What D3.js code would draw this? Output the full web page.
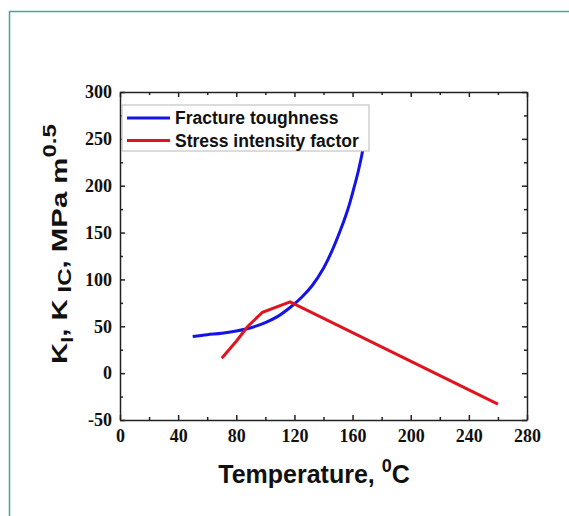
<!DOCTYPE html>
<html>
<head>
<meta charset="utf-8">
<script src="https://cdn.jsdelivr.net/npm/d3@7"></script>
<style>
  body { margin: 0; background: #fff; }
  svg { display: block; }
  .tick text { font-family: "Liberation Serif", "Times New Roman", serif; font-weight: bold; font-size: 18px; fill: #111; }
  .axis path, .axis line { stroke: #222; stroke-width: 1.5; }
  .title { font-family: "Liberation Sans", Arial, sans-serif; font-weight: bold; fill: #111; }
</style>
</head>
<body>
<svg id="chart" width="569" height="516"></svg>
<script>
// fracture toughness (blue)
var toughTemp = [50, 60, 70, 80, 90, 100, 108, 117, 125, 132, 140, 146, 152, 157, 161, 164, 167, 168.5, 169.5];
var toughVal  = [39, 41, 42.5, 45, 48.5, 54, 60, 70, 81, 93, 112, 131, 154, 176, 198, 216, 238, 256, 272];
// stress intensity factor (red)
var stressTemp = [70, 80, 88, 98, 117, 260];
var stressVal  = [16, 34, 50, 65, 76, -33];

var xTicks = [0, 40, 80, 120, 160, 200, 240, 280];
var xMinor = [20, 60, 100, 140, 180, 220, 260];
var yTicks = [-50, 0, 50, 100, 150, 200, 250, 300];
var yMinor = [-25, 25, 75, 125, 175, 225, 275];

var seriesNames = ["Fracture toughness", "Stress intensity factor"];
var seriesColors = ["#1414e6", "#e0141e"];

var svg = d3.select("#chart");
var margin = { left: 120, right: 42, top: 92, bottom: 96 };
var width = 569 - margin.left - margin.right;
var height = 516 - margin.top - margin.bottom;

// teal frame around the figure
svg.append("rect")
    .attr("x", 9.5).attr("y", 11.5)
    .attr("width", 600).attr("height", 600)
    .attr("fill", "none")
    .attr("stroke", "#3fa99c")
    .attr("stroke-width", 1.5);

var g = svg.append("g").attr("transform", "translate(" + margin.left + "," + margin.top + ")");

var x = d3.scaleLinear().domain([0, 280]).range([0, width]);
var y = d3.scaleLinear().domain([-50, 300]).range([height, 0]);
var fmt = function(d) { return String(d); };

function minorAxis(axis, vals) {
    return axis.tickValues(vals).tickSize(-3).tickFormat("");
}

// bottom + top
g.append("g").attr("class", "axis").attr("transform", "translate(0," + height + ")")
    .call(d3.axisBottom(x).tickValues(xTicks).tickFormat(fmt).tickSizeInner(-5).tickSizeOuter(0).tickPadding(9));
g.append("g").attr("class", "axis").attr("transform", "translate(0," + height + ")")
    .call(minorAxis(d3.axisBottom(x), xMinor)).select(".domain").remove();
g.append("g").attr("class", "axis")
    .call(d3.axisTop(x).tickValues(xTicks).tickSizeInner(-5).tickSizeOuter(0).tickFormat(""));
g.append("g").attr("class", "axis")
    .call(minorAxis(d3.axisTop(x), xMinor)).select(".domain").remove();

// left + right
g.append("g").attr("class", "axis")
    .call(d3.axisLeft(y).tickValues(yTicks).tickFormat(fmt).tickSizeInner(-5).tickSizeOuter(0).tickPadding(8));
g.append("g").attr("class", "axis")
    .call(minorAxis(d3.axisLeft(y), yMinor)).select(".domain").remove();
g.append("g").attr("class", "axis").attr("transform", "translate(" + width + ",0)")
    .call(d3.axisRight(y).tickValues(yTicks).tickSizeInner(-5).tickSizeOuter(0).tickFormat(""));
g.append("g").attr("class", "axis").attr("transform", "translate(" + width + ",0)")
    .call(minorAxis(d3.axisRight(y), yMinor)).select(".domain").remove();

var line = d3.line()
    .x(function(d) { return x(d[0]); })
    .y(function(d) { return y(d[1]); });

g.append("path")
    .datum(d3.zip(toughTemp, toughVal))
    .attr("d", line.curve(d3.curveCatmullRom))
    .attr("fill", "none")
    .attr("stroke", seriesColors[0])
    .attr("stroke-width", 3);

g.append("path")
    .datum(d3.zip(stressTemp, stressVal))
    .attr("d", line.curve(d3.curveLinear))
    .attr("fill", "none")
    .attr("stroke", seriesColors[1])
    .attr("stroke-width", 3);

// legend
var legend = g.append("g").attr("transform", "translate(2,13)");
legend.append("rect")
    .attr("width", 247).attr("height", 46)
    .attr("fill", "#fff")
    .attr("stroke", "#b8b8b8");
seriesNames.forEach(function(name, i) {
    var row = legend.append("g").attr("transform", "translate(0," + (13 + i * 22.5) + ")");
    row.append("line")
        .attr("x1", 5).attr("x2", 48)
        .attr("stroke", seriesColors[i]).attr("stroke-width", 3);
    row.append("text")
        .attr("class", "title")
        .attr("x", 53).attr("dy", "0.36em")
        .style("font-size", "17.5px")
        .text(name);
});

// axis titles
var xt = svg.append("text")
    .attr("class", "title")
    .attr("x", 314).attr("y", 483)
    .attr("text-anchor", "middle")
    .style("font-size", "25px");
xt.append("tspan").text("Temperature, ");
xt.append("tspan").attr("dy", -11).style("font-size", "18px").text("0");
xt.append("tspan").attr("dy", 11).text("C");

var yt = svg.append("text")
    .attr("class", "title")
    .attr("text-anchor", "middle")
    .style("font-size", "22px");
yt.append("tspan").text("K");
yt.append("tspan").attr("dy", 6).style("font-size", "16px").text("I");
yt.append("tspan").attr("dy", -6).text(", K");
yt.append("tspan").attr("dy", 4).style("font-size", "18px").text(" IC");
yt.append("tspan").attr("dy", -4).text(", MPa m");
yt.append("tspan").attr("dy", -11).style("font-size", "18px").text("0.5");
// stretch along its length to span the same height as the original
var ytLen = yt.node().getComputedTextLength();
var ytScale = 240 / ytLen;
yt.attr("transform", "translate(67,244) rotate(-90) scale(" + ytScale + ",1)");
</script>
</body>
</html>
